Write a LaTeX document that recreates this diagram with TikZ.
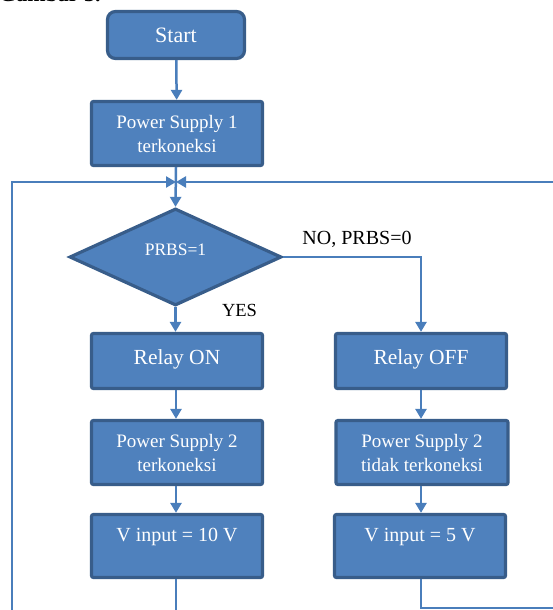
\documentclass[tikz,border=0pt]{standalone}
\usepackage{fontspec}
\setmainfont{Liberation Serif}
\usetikzlibrary{shapes.geometric,arrows.meta}
\definecolor{boxfill}{HTML}{4F81BD}
\definecolor{boxline}{HTML}{385D8A}
\definecolor{conn}{HTML}{4A7EBB}
\begin{document}
\begin{tikzpicture}[x=1pt,y=-1pt,
  box/.style={draw=boxline, line width=3.2pt, fill=boxfill, text=white,
    rounded corners=2pt, minimum width=171pt, inner sep=0pt, align=center,
    font=\fontsize{19}{24}\selectfont},
  flow/.style={draw=conn, line width=2.5pt, -{Triangle[length=10pt,width=11pt]}},
  lbl/.style={text=black, inner sep=0pt}]
\useasboundingbox (0,0) rectangle (552,610);

\node[lbl, anchor=base west, font=\bfseries\fontsize{22}{26}\selectfont] (title) at (-1,1.5) {Gambar 3.};

\node[box, rounded corners=8pt, minimum width=137pt, minimum height=47pt,
      font=\fontsize{22}{26}\selectfont] (start) at (176,35) {Start};
\node[box, minimum height=64pt] (ps1) at (177,133.5) {Power Supply 1\\terkoneksi};
\coordinate (j) at (176,182);

\node[draw=boxline, line width=3.2pt, fill=boxfill, text=white, diamond,
      minimum width=212pt, minimum height=97pt, inner sep=0pt,
      text height=10pt, text depth=12.4pt,
      font=\fontsize{17.5}{21}\selectfont] (dec) at (175.5,257) {PRBS=1};

\node[box, minimum height=55pt, text height=15pt, text depth=9pt,
      font=\fontsize{21.5}{26}\selectfont] (ron) at (177,361) {Relay ON};
\node[box, minimum height=55pt, text height=15pt, text depth=9pt,
      font=\fontsize{21.5}{26}\selectfont] (roff) at (421,361) {Relay OFF};

\node[box, minimum height=64pt] (ps2a) at (177,452.5) {Power Supply 2\\terkoneksi};
\node[box, minimum height=64pt, minimum width=172pt] (ps2b) at (422,452.5) {Power Supply 2\\tidak terkoneksi};

\node[box, minimum height=63pt, text height=8pt, text depth=17pt,
      font=\fontsize{20}{24}\selectfont] (va) at (177,546) {V input = 10 V};
\node[box, minimum height=63pt, text height=8pt, text depth=17pt,
      font=\fontsize{20}{24}\selectfont] (vb) at (420,546) {V input = 5 V};

\node[lbl, font=\fontsize{20}{24}\selectfont] (nolbl) at (357,239) {NO, PRBS=0};
\node[lbl, font=\fontsize{18.5}{22}\selectfont] (yeslbl) at (239.5,310) {YES};

% connectors
\draw[flow] (start) -- (ps1);
\draw[flow] (ps1.south -| j) -- (dec.north);
\coordinate (nocorner) at (421,257);
\draw[flow] (dec.east) -- (nocorner) -- (roff.north -| nocorner);
\draw[flow] (dec.south) -- (ron.north -| dec.south);
\draw[flow] (ron.south -| j) -- (ps2a.north -| j);
\draw[flow] (ps2a.south -| j) -- (va.north -| j);
\draw[flow] (roff.south -| nocorner) -- (ps2b.north -| nocorner);
\draw[flow] (ps2b.south -| nocorner) -- (vb.north -| nocorner);

% feedback loops
\coordinate (lb) at (12,640);
\coordinate (lt) at (12,182);
\draw[flow] (va.south -| j) |- (lb) -- (lt) -- (j);
\coordinate (rb) at (565,608);
\coordinate (rt) at (565,182);
\draw[flow] (vb.south -| nocorner) |- (rb) -- (rt) -- (j);
\end{tikzpicture}
\end{document}
